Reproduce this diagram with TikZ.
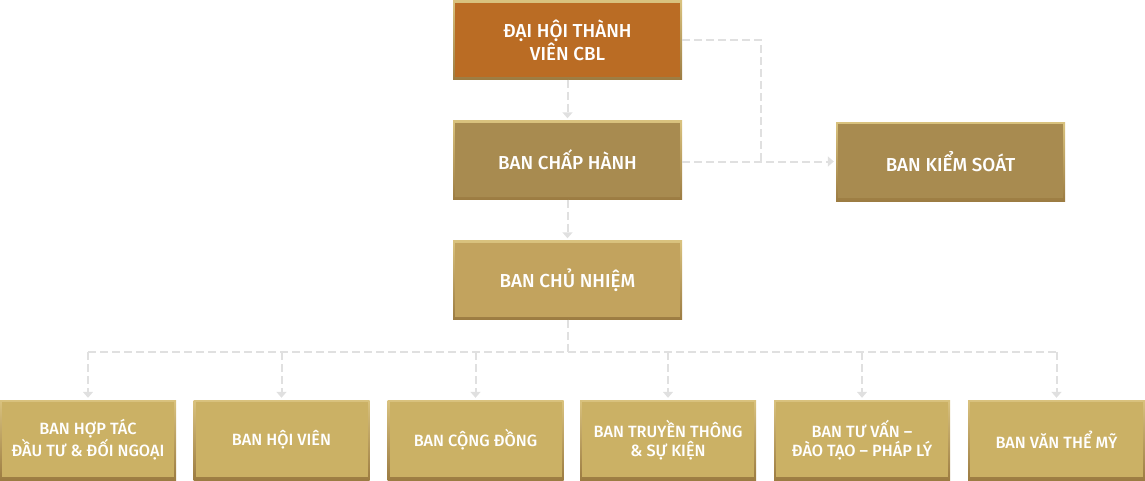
\documentclass[tikz,border=0pt]{standalone}
\usepackage{fontspec}
\setmainfont{Fira Sans Medium}
\usetikzlibrary{arrows.meta}

\definecolor{orange0}{HTML}{BA6C24}
\definecolor{gold1}{HTML}{A88B50}
\definecolor{gold2}{HTML}{C2A35E}
\definecolor{gold3}{HTML}{CBB165}
\definecolor{rimlight}{HTML}{D9C27E}
\definecolor{rimdark}{HTML}{9C7C42}
\definecolor{dashgray}{HTML}{E0E0E0}

\begin{document}
\begin{tikzpicture}
    [
        x=1pt, y=-1pt,
        box_style/.style={rectangle, inner sep=0pt, align=center, text=white,
            top color=rimlight, bottom color=rimdark,
            path picture={\fill[#1] ([shift={(2pt,3pt)}]path picture bounding box.south west)
                rectangle ([shift={(-2pt,-2pt)}]path picture bounding box.north east);}},
        big_style/.style={box_style=#1, minimum width=229pt, minimum height=79pt,
            font=\fontsize{18.8}{21}\selectfont},
        small_style/.style={box_style=gold3, minimum width=176pt, minimum height=80pt,
            font=\fontsize{16.3}{19}\selectfont},
        line_style/.style={draw=dashgray, line width=2pt, dash pattern=on 8pt off 4pt},
        edge_style/.style={line_style, -{Triangle[width=10pt,length=6pt]}, shorten >=2pt}
    ]
        \useasboundingbox (0,0) rectangle (1145,480);

        \node[big_style=orange0] (dhtv) at (567.5,40) {ĐẠI HỘI THÀNH\\VIÊN CBL};
        \node[big_style=gold1] (bch) at (567.5,160) {BAN CHẤP HÀNH};
        \node[big_style=gold1] (bks) at (950.5,161.5) {BAN KIỂM SOÁT};
        \node[big_style=gold2] (bcn) at (567.5,280) {BAN CHỦ NHIỆM};

        \node[small_style] (b1) at (88,440) {BAN HỢP TÁC\\ĐẦU TƯ \& ĐỐI NGOẠI};
        \node[small_style] (b2) at (281.5,440) {BAN HỘI VIÊN};
        \node[small_style] (b3) at (475.5,440) {BAN CỘNG ĐỒNG};
        \node[small_style] (b4) at (668,440) {BAN TRUYỀN THÔNG\\\& SỰ KIỆN};
        \node[small_style] (b5) at (862,440) {BAN TƯ VẤN –\\ĐÀO TẠO – PHÁP LÝ};
        \node[small_style, minimum width=177pt] (b6) at (1056.5,440) {BAN VĂN THỂ MỸ};

        \coordinate (jn) at (761,161.5);
        \coordinate (bus) at (567.5,352);

        \draw[edge_style] (dhtv) -- (bch);
        \draw[line_style] (dhtv.east) -| (jn);
        \draw[edge_style] (bch.east |- jn) -- (bks.west);
        \draw[edge_style] (bch) -- (bcn);

        \draw[line_style] (bcn) -- (bus);
        \draw[line_style] (b1.north |- bus) -- (b6.north |- bus);
        \draw[edge_style] (b1.north |- bus) -- (b1.north);
        \draw[edge_style] (b2.north |- bus) -- (b2.north);
        \draw[edge_style] (b3.north |- bus) -- (b3.north);
        \draw[edge_style] (b4.north |- bus) -- (b4.north);
        \draw[edge_style] (b5.north |- bus) -- (b5.north);
        \draw[edge_style] (b6.north |- bus) -- (b6.north);
    \end{tikzpicture}
\end{document}
